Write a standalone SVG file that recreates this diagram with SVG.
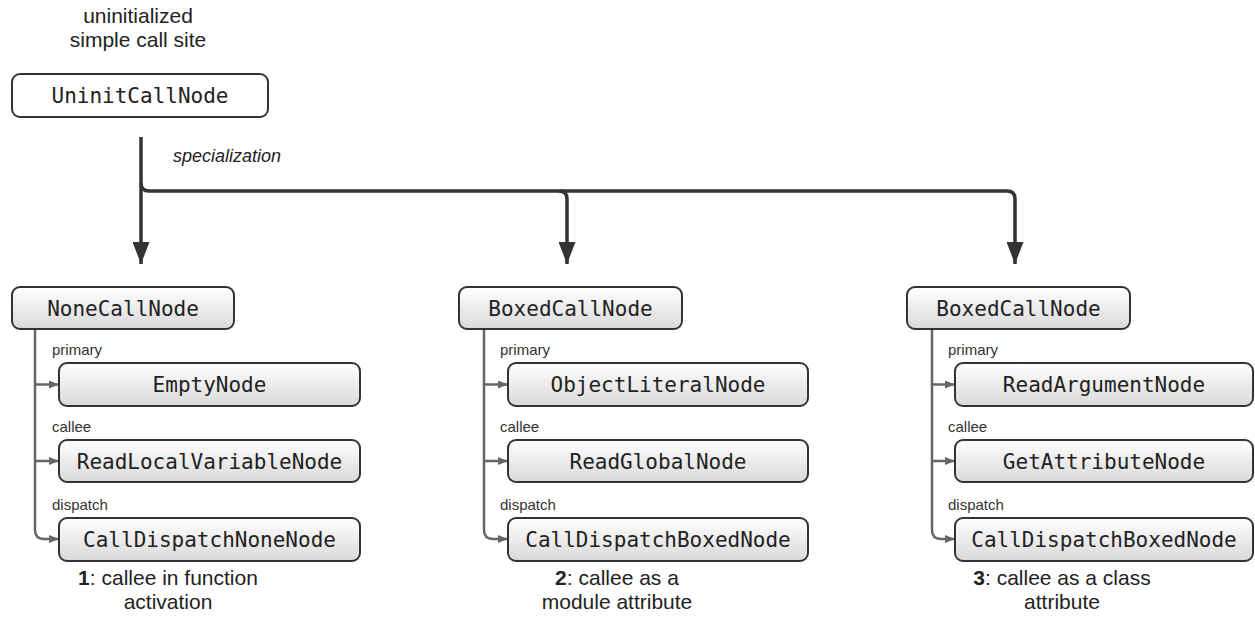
<svg xmlns="http://www.w3.org/2000/svg" width="1255" height="642" viewBox="0 0 1255 642">
  <style>
    .mono { font-family: "DejaVu Sans Mono", "Liberation Mono", monospace; font-size: 21px; fill: #222; text-anchor: middle; }
    .sans { font-family: "Liberation Sans", Arial, sans-serif; fill: #222; }
    .cap { font-size: 21px; text-anchor: middle; }
    .lbl { font-size: 15px; fill: #333; }
    .box { stroke: #333; stroke-width: 2; }
    .main { fill: none; stroke: #333; stroke-width: 3.5; stroke-linejoin: round; }
    .sub { fill: none; stroke: #666; stroke-width: 2.5; }
  </style>
  <defs>
    <linearGradient id="shade" x1="0" y1="0" x2="0" y2="1">
      <stop offset="0" stop-color="#ffffff"/>
      <stop offset="1" stop-color="#d9d9d9"/>
    </linearGradient>
    <marker id="bigArrow" markerUnits="userSpaceOnUse" markerWidth="22" markerHeight="17" viewBox="0 0 22 17" refX="22" refY="8.5" orient="auto">
      <path d="M0,0 L22,8.5 L0,17 Z" fill="#333"/>
    </marker>
    <marker id="smallArrow" markerUnits="userSpaceOnUse" markerWidth="10" markerHeight="8" viewBox="0 0 10 8" refX="10" refY="4" orient="auto">
      <path d="M0,0 L10,4 L0,8 Z" fill="#666"/>
    </marker>
  </defs>

  <!-- header -->
  <text class="sans cap" x="138" y="23">uninitialized</text>
  <text class="sans cap" x="138" y="47">simple call site</text>

  <g id="uninit">
    <rect class="box" x="12" y="74" width="256" height="43" rx="8" fill="#fff"/>
    <text class="mono" x="140" y="103">UninitCallNode</text>
  </g>

  <!-- specialization connectors -->
  <g id="connectors">
    <path class="main" d="M141,137 V264" marker-end="url(#bigArrow)"/>
    <path class="main" d="M141,183 Q141,191 149,191 H1007 Q1015,191 1015,199 V264" marker-end="url(#bigArrow)"/>
    <path class="main" d="M559,191 Q567,191 567,199 V264" marker-end="url(#bigArrow)"/>
    <text class="sans" x="173" y="162" font-size="18" font-style="italic">specialization</text>

    <!-- child links, column 1 -->
    <path class="sub" d="M35,329 V530 Q35,539 44,539 H59" marker-end="url(#smallArrow)"/>
    <path class="sub" d="M35,384.5 H59" marker-end="url(#smallArrow)"/>
    <path class="sub" d="M35,461 H59" marker-end="url(#smallArrow)"/>
    <!-- column 2 -->
    <path class="sub" d="M484,330 V530 Q484,539 493,539 H508" marker-end="url(#smallArrow)"/>
    <path class="sub" d="M484,384.5 H508" marker-end="url(#smallArrow)"/>
    <path class="sub" d="M484,461 H508" marker-end="url(#smallArrow)"/>
    <!-- column 3 -->
    <path class="sub" d="M932,330 V530 Q932,539 941,539 H955" marker-end="url(#smallArrow)"/>
    <path class="sub" d="M932,384.5 H955" marker-end="url(#smallArrow)"/>
    <path class="sub" d="M932,461 H955" marker-end="url(#smallArrow)"/>
  </g>

  <!-- column 1 -->
  <g id="noneCall">
    <rect class="box" x="12" y="287" width="222" height="42" rx="8" fill="url(#shade)"/>
    <text class="mono" x="123" y="315.5">NoneCallNode</text>
  </g>
  <text class="sans lbl" x="52" y="355">primary</text>
  <g id="emptyNode">
    <rect class="box" x="59" y="363" width="301" height="43" rx="8" fill="url(#shade)"/>
    <text class="mono" x="209.5" y="392">EmptyNode</text>
  </g>
  <text class="sans lbl" x="52" y="432">callee</text>
  <g id="readLocal">
    <rect class="box" x="59" y="440" width="301" height="42" rx="8" fill="url(#shade)"/>
    <text class="mono" x="209.5" y="468.5">ReadLocalVariableNode</text>
  </g>
  <text class="sans lbl" x="52" y="510">dispatch</text>
  <g id="dispatchNone">
    <rect class="box" x="59" y="518" width="301" height="43" rx="8" fill="url(#shade)"/>
    <text class="mono" x="209.5" y="547">CallDispatchNoneNode</text>
  </g>
  <text class="sans cap" x="168" y="585"><tspan font-weight="bold">1</tspan>: callee in function</text>
  <text class="sans cap" x="168" y="609">activation</text>

  <!-- column 2 -->
  <g id="boxedCall1">
    <rect class="box" x="459" y="287" width="223" height="42" rx="8" fill="url(#shade)"/>
    <text class="mono" x="570.5" y="315.5">BoxedCallNode</text>
  </g>
  <text class="sans lbl" x="500" y="355">primary</text>
  <g id="objectLiteral">
    <rect class="box" x="508" y="363" width="300" height="43" rx="8" fill="url(#shade)"/>
    <text class="mono" x="658" y="392">ObjectLiteralNode</text>
  </g>
  <text class="sans lbl" x="500" y="432">callee</text>
  <g id="readGlobal">
    <rect class="box" x="508" y="440" width="300" height="42" rx="8" fill="url(#shade)"/>
    <text class="mono" x="658" y="468.5">ReadGlobalNode</text>
  </g>
  <text class="sans lbl" x="500" y="510">dispatch</text>
  <g id="dispatchBoxed1">
    <rect class="box" x="508" y="518" width="300" height="43" rx="8" fill="url(#shade)"/>
    <text class="mono" x="658" y="547">CallDispatchBoxedNode</text>
  </g>
  <text class="sans cap" x="617" y="585"><tspan font-weight="bold">2</tspan>: callee as a</text>
  <text class="sans cap" x="617" y="609">module attribute</text>

  <!-- column 3 -->
  <g id="boxedCall2">
    <rect class="box" x="907" y="287" width="223" height="42" rx="8" fill="url(#shade)"/>
    <text class="mono" x="1018.5" y="315.5">BoxedCallNode</text>
  </g>
  <text class="sans lbl" x="948" y="355">primary</text>
  <g id="readArgument">
    <rect class="box" x="955" y="363" width="298" height="43" rx="8" fill="url(#shade)"/>
    <text class="mono" x="1104" y="392">ReadArgumentNode</text>
  </g>
  <text class="sans lbl" x="948" y="432">callee</text>
  <g id="getAttribute">
    <rect class="box" x="955" y="440" width="298" height="42" rx="8" fill="url(#shade)"/>
    <text class="mono" x="1104" y="468.5">GetAttributeNode</text>
  </g>
  <text class="sans lbl" x="948" y="510">dispatch</text>
  <g id="dispatchBoxed2">
    <rect class="box" x="955" y="518" width="298" height="43" rx="8" fill="url(#shade)"/>
    <text class="mono" x="1104" y="547">CallDispatchBoxedNode</text>
  </g>
  <text class="sans cap" x="1062" y="585"><tspan font-weight="bold">3</tspan>: callee as a class</text>
  <text class="sans cap" x="1062" y="609">attribute</text>
</svg>
